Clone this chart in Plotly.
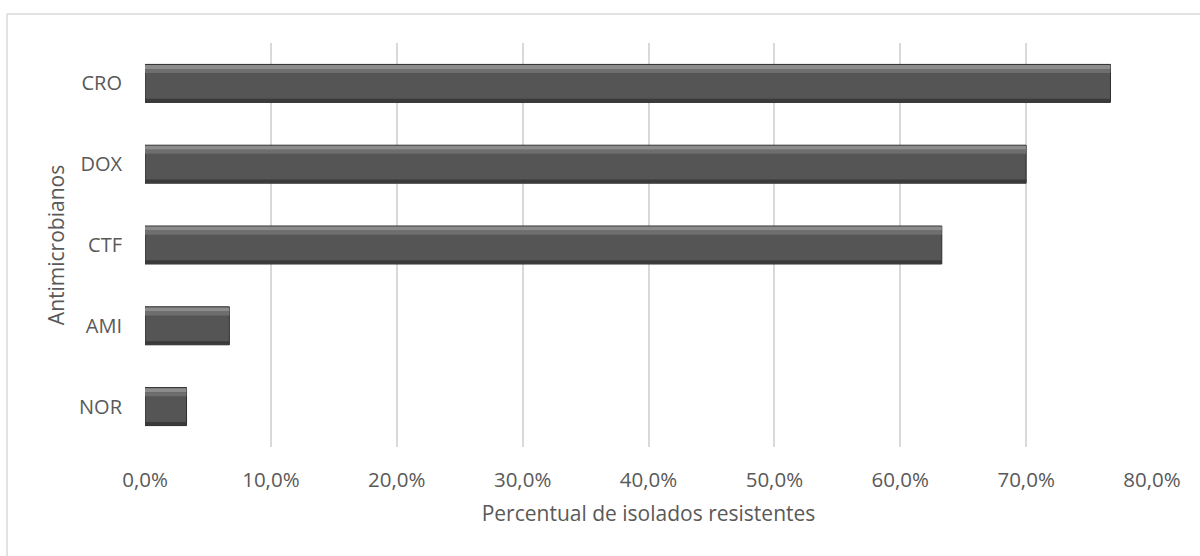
import plotly.graph_objects as go

categories = ["CRO", "DOX", "CTF", "AMI", "NOR"]
values = [76.7, 70.0, 63.3, 6.7, 3.3]
tick_vals = [0, 10, 20, 30, 40, 50, 60, 70, 80]
tick_text = ["0,0%", "10,0%", "20,0%", "30,0%", "40,0%", "50,0%", "60,0%", "70,0%", "80,0%"]

FONT = "Open Sans"
TXT = "#595959"

fig = go.Figure()
# main bar body
fig.add_trace(go.Bar(
    y=categories, x=values, orientation="h", width=0.47,
    marker=dict(color="#555555", line=dict(color="#2b2b2b", width=1)),
    hoverinfo="x+y", showlegend=False,
))
# top highlight (bevel)
fig.add_trace(go.Bar(
    y=categories, x=values, orientation="h", width=0.05, offset=-0.228,
    marker=dict(color="#8c8c8c", line=dict(width=0)),
    hoverinfo="skip", showlegend=False,
))
fig.add_trace(go.Bar(
    y=categories, x=values, orientation="h", width=0.05, offset=-0.178,
    marker=dict(color="#6e6e6e", line=dict(width=0)),
    hoverinfo="skip", showlegend=False,
))
# bottom shading (bevel)
fig.add_trace(go.Bar(
    y=categories, x=values, orientation="h", width=0.04, offset=0.19,
    marker=dict(color="#3a3a3a", line=dict(width=0)),
    hoverinfo="skip", showlegend=False,
))

fig.update_layout(
    width=1200, height=556,
    barmode="overlay",
    paper_bgcolor="white", plot_bgcolor="white",
    margin=dict(l=145, r=48, t=43, b=109),
    font=dict(family=FONT, size=20, color=TXT),
    xaxis=dict(
        range=[0, 80], tickvals=tick_vals, ticktext=tick_text,
        showgrid=True, gridcolor="#d9d9d9", gridwidth=1.5,
        zeroline=False, showline=False, ticks="",
        ticklabelstandoff=18,
        tickfont=dict(family=FONT, size=20.5, color=TXT),
        title=dict(text="Percentual de isolados resistentes", standoff=14,
                   font=dict(family=FONT, size=21, color=TXT)),
        fixedrange=True,
    ),
    yaxis=dict(
        categoryorder="array", categoryarray=categories, autorange="reversed",
        showgrid=False, zeroline=False, showline=False, ticks="",
        ticklabelstandoff=22,
        tickfont=dict(family=FONT, size=20, color=TXT),
        title=dict(text="Antimicrobianos", standoff=8,
                   font=dict(family=FONT, size=21, color=TXT)),
        fixedrange=True,
    ),
    shapes=[
        dict(type="line", xref="paper", yref="paper",
             x0=-0.137, x1=1.1, y0=1.0718, y1=1.0718,
             line=dict(color="#d9d9d9", width=1.5)),
        dict(type="line", xref="paper", yref="paper",
             x0=-0.137, x1=-0.137, y0=-0.4, y1=1.0718,
             line=dict(color="#d9d9d9", width=1.5)),
    ],
)

fig.write_html("out.html")
